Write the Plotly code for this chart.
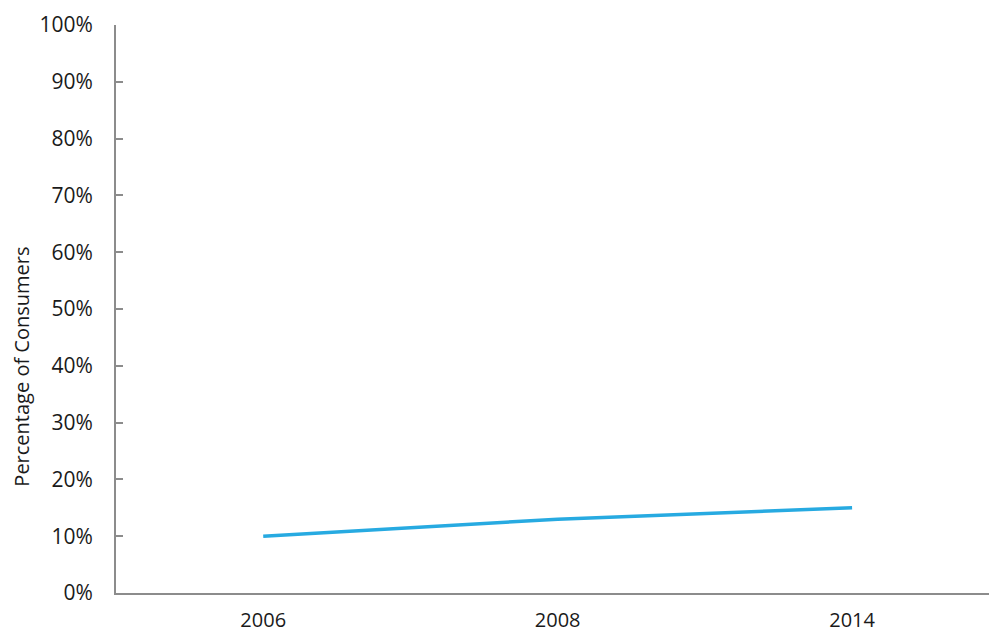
import plotly.graph_objects as go

years = ["2006", "2008", "2014"]
share = [10, 13, 15]
ytick_vals = [0, 10, 20, 30, 40, 50, 60, 70, 80, 90, 100]
ytick_text = ["0%", "10%", "20%", "30%", "40%", "50%", "60%", "70%", "80%", "90%", "100%"]
y_title = "Percentage of Consumers"

FONT = "Open Sans"
AXIS = "#8c8c8c"

fig = go.Figure()
fig.add_trace(go.Scatter(
    x=years, y=share, mode="lines",
    line=dict(color="#27aae1", width=3.5),
    hoverinfo="x+y",
))

fig.update_layout(
    width=989, height=633,
    margin=dict(l=116, r=0, t=25, b=35),
    paper_bgcolor="white", plot_bgcolor="white",
    showlegend=False,
    font=dict(family=FONT, size=21, color="#1a1a1a"),
)
fig.update_xaxes(
    type="category", range=[-0.5, 2.465],
    showline=True, linecolor=AXIS, linewidth=2,
    showgrid=False, zeroline=False, ticks="",
    tickfont=dict(family=FONT, size=20, color="#1a1a1a"),
    ticklabelstandoff=8,
)
fig.update_yaxes(
    range=[0, 100],
    tickvals=ytick_vals, ticktext=ytick_text,
    showline=True, linecolor=AXIS, linewidth=2,
    ticks="inside", ticklen=7, tickwidth=2, tickcolor=AXIS,
    showgrid=False, zeroline=False,
    tickfont=dict(family=FONT, size=21, color="#1a1a1a"),
    ticklabelstandoff=17,
)
fig.add_annotation(
    text=y_title, textangle=-90,
    xref="paper", yref="paper", x=-0.108, y=0.398,
    xanchor="center", yanchor="middle", showarrow=False,
    font=dict(family=FONT, size=20, color="#1a1a1a"),
)

fig.write_html(
    "out.html",
    config={"displayModeBar": False},
    post_script="document.body.style.margin='0';document.body.style.overflow='hidden';",
)
